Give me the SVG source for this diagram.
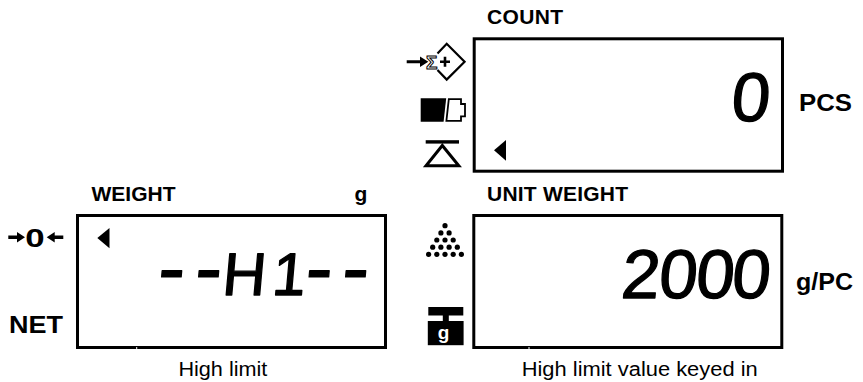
<svg xmlns="http://www.w3.org/2000/svg" width="863" height="382" viewBox="0 0 863 382">
<style>
.box{fill:none;stroke:#000;stroke-width:3}
.hdr{font-family:"Liberation Sans",Arial,sans-serif;font-weight:bold;font-size:21px;fill:#000}
.unit{font-family:"Liberation Sans",Arial,sans-serif;font-weight:bold;font-size:23px;fill:#000}
.cap{font-family:"Liberation Sans",Arial,sans-serif;font-size:20px;fill:#000}
.lcd{font-family:"Liberation Sans",Arial,sans-serif;font-size:69px;fill:#000;stroke:#000;stroke-width:1.3;stroke-linejoin:round}
.lcd2{font-family:"Liberation Sans",Arial,sans-serif;font-size:60px;fill:#000;stroke:#000;stroke-width:1.3;stroke-linejoin:round}
.dash{font-size:80px}
.gap{fill:#fff}
.ln{fill:none;stroke:#000}
</style>
<rect width="863" height="382" fill="#fff"/>
<g id="connectors"/>

<g id="count-display">
  <text class="hdr" x="487" y="24" textLength="76">COUNT</text>
  <rect class="box" x="474.2" y="38.8" width="308.3" height="132.4"/>
  <text class="lcd" transform="translate(0,121) skewX(-5)" x="730" y="0">0</text>
  <polygon points="494,150.3 506,140 506,160.7" fill="#000"/>
  <text class="unit" x="799" y="110.7" textLength="53" lengthAdjust="spacingAndGlyphs">PCS</text>
</g>

<g id="icon-accumulate">
  <path d="M406.7,60.2 H420 V56.5 L428.3,61.7 L420,66.9 V63.2 H406.7 Z" fill="#000"/>
  <text x="426" y="69.3" font-family="'Liberation Sans',Arial,sans-serif" font-weight="bold" font-size="19" fill="#fff" stroke="#000" stroke-width="1">Σ</text>
  <path class="ln" d="M437.5,53.5 L446.7,43.8 L464.6,61.7 L446.7,79.6 L437.5,70" stroke-width="2.2"/>
  <path class="ln" d="M440,61.7 H450 M445,56.7 V66.7" stroke-width="2.6"/>
</g>

<g id="icon-battery">
  <polygon points="420.7,98.3 446.2,98.3 443.6,121.7 420.7,121.7" fill="#000"/>
  <path class="ln" d="M448.8,99.2 H461 V104 H465 V116.3 H461 V120.8 H446.4 Z" stroke-width="1.8"/>
</g>

<g id="icon-stable">
  <rect x="425.7" y="140.2" width="33.3" height="3.4" fill="#000"/>
  <polygon class="ln" points="442.3,145.5 426,165.8 458.8,165.8" stroke-width="3"/>
</g>

<g id="weight-display">
  <text class="hdr" x="91.5" y="200.7">WEIGHT</text>
  <text class="hdr" x="354.5" y="200.7">g</text>
  <rect class="box" x="77.5" y="215.5" width="308" height="132"/>
  <rect class="gap" x="136.2" y="347" width="1" height="3"/>
  <polygon points="97.3,238 109.5,228 109.5,248.3" fill="#000"/>
  <text class="lcd2" transform="translate(0,295) skewX(-5)" y="0"><tspan class="dash" x="156.4">-</tspan><tspan class="dash" x="193.4">-</tspan><tspan x="221.2">H</tspan><tspan x="271">1</tspan><tspan class="dash" x="303.9">-</tspan><tspan class="dash" x="340.4">-</tspan></text>
</g>

<g id="icon-zero">
  <path d="M8.3,235.4 H17 V232 L25,237.2 L17,242.4 V239 H8.3 Z" fill="#000"/>
  <text x="25.3" y="246.7" font-family="'Liberation Sans',Arial,sans-serif" font-weight="bold" font-size="26" textLength="19.4" lengthAdjust="spacingAndGlyphs" fill="#000">0</text>
  <path d="M63.3,235.4 H54.7 V232 L46.7,237.2 L54.7,242.4 V239 H63.3 Z" fill="#000"/>
</g>

<g id="label-net">
  <text class="unit" x="9" y="333.3" textLength="54" lengthAdjust="spacingAndGlyphs">NET</text>
</g>

<g id="unit-weight-display">
  <text class="hdr" x="487" y="200.7" textLength="141">UNIT WEIGHT</text>
  <rect class="box" x="473.8" y="215.5" width="308" height="132"/>
  <rect class="gap" x="528.5" y="347" width="1" height="3"/>
  <text class="lcd" transform="translate(0,298.3) skewX(-5)" y="0"><tspan x="620">2</tspan><tspan x="657.5">0</tspan><tspan x="694.5">0</tspan><tspan x="730.5">0</tspan></text>
  <text class="unit" x="796" y="290" textLength="57" lengthAdjust="spacingAndGlyphs">g/PC</text>
</g>

<g id="icon-pieces" fill="#000">
  <circle cx="445" cy="225.7" r="2.6"/>
  <circle cx="440.9" cy="232.9" r="2.6"/><circle cx="449.1" cy="232.9" r="2.6"/>
  <circle cx="436.8" cy="240" r="2.6"/><circle cx="445" cy="240" r="2.6"/><circle cx="453.2" cy="240" r="2.6"/>
  <circle cx="432.7" cy="247.2" r="2.6"/><circle cx="440.9" cy="247.2" r="2.6"/><circle cx="449.1" cy="247.2" r="2.6"/><circle cx="457.3" cy="247.2" r="2.6"/>
  <circle cx="428.6" cy="254.3" r="2.6"/><circle cx="436.8" cy="254.3" r="2.6"/><circle cx="445" cy="254.3" r="2.6"/><circle cx="453.2" cy="254.3" r="2.6"/><circle cx="461.4" cy="254.3" r="2.6"/>
</g>

<g id="icon-weight">
  <rect x="428.3" y="307" width="35" height="8.5" fill="#000"/>
  <rect x="442.8" y="315" width="6" height="6.5" fill="#000"/>
  <rect x="427.8" y="321" width="35.8" height="24.2" fill="#000"/>
  <text x="443.5" y="339" text-anchor="middle" font-family="'Liberation Sans',Arial,sans-serif" font-weight="bold" font-size="19" fill="#fff">g</text>
</g>

<g id="caption-left">
  <text class="cap" x="178.4" y="376" textLength="89" lengthAdjust="spacingAndGlyphs">High limit</text>
</g>
<g id="caption-right">
  <text class="cap" x="521.7" y="376" textLength="236" lengthAdjust="spacingAndGlyphs">High limit value keyed in</text>
</g>
</svg>
